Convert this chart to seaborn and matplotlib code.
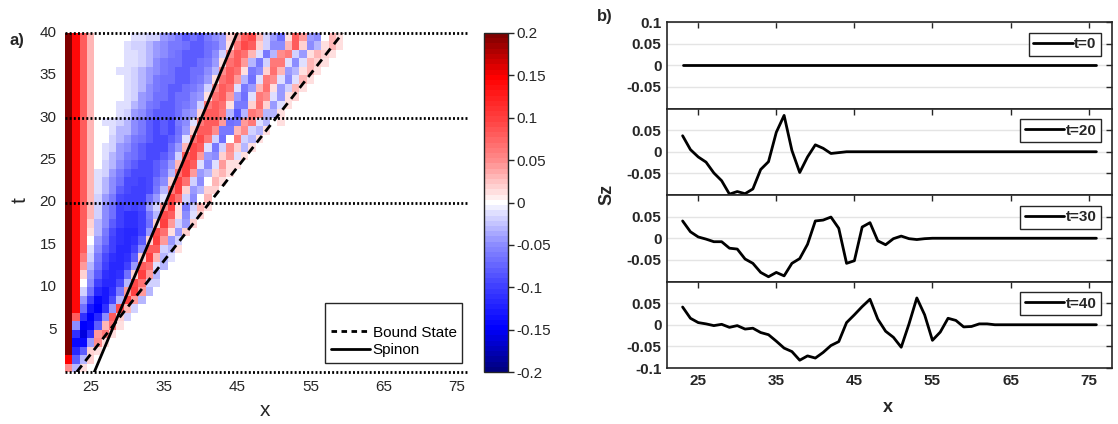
import numpy as np
import pandas as pd
import matplotlib
matplotlib.use("Agg")
import matplotlib.pyplot as plt
from matplotlib.colors import LinearSegmentedColormap
from matplotlib.transforms import Affine2D
from matplotlib.lines import Line2D
import seaborn as sns

# ------------------------------------------------------------------ data
# (a) heat map: sites 22..76, time rows t in [j, j+1], j = 0..39
# encoding: '.' = 0, 'A'..'T' = +0.01..+0.20, 'a'..'t' = -0.01..-0.20
heat_sites = list(range(22, 77))
heat_t_edges = list(range(0, 41))
heat_rows = [
    "EcA..",
    "OhcB.",
    "TlhBA",
    "TnndE A....",
    "TkpkD FA...",
    "Teonh CGA..",
    "THkol eHBb.",
    "TNgmo kdICb",
    "TNdjn micJD c....",
    "TNbgl mkfDJ Dc...",
    "TN.ej llicI Gbb..",
    "TNBdh klkgB JDc..",
    "TNDcg jlljd HGac.",
    "TNFbf iklkh BJCca",
    "TNHae hjllj eHHbc A....",
    "TNH.d gjklk hBJDd b....",
    "TNHAc fikll jdIGA dB...",
    "TNHBc ehjkk jgBJD bdB..",
    "TNHCb egjkk jfcIH AeaB.",
    "TNHCb egjij idbEJ AfbCA",
    "TNHCb dfijj jgdaJ Gbe.C",
    "TNHCa cehij jifcF JBdcB B....",
    "TNHCa cegii jigeB JGbe. CA...",
    "TNHCa bdfhi iihfc GJDdc BCA..",
    "TNHC. bcegh iihgd CJHae aDAA.",
    "TNHC. acdfg hiihf bHIDd eBDaA",
    "TNHC. abdeg hiiig dCIHa fbEBc A....",
    "TNHC. .bcdf ghiih faGIF bg.Fb cA...",
    "TNHC. .acce fhihi gdBHH EffCE bcA..",
    "TNHC. aabce fhihi feaFH HDgfD Fac.A",
    "TNHC. ..abd eghhh gedBH HFchc FEccA",
    "TNHC. ..aac dfghh gfebF HGAff BGBda A....",
    "TNHC. ...ab deggh ggedA GHDdg aFEad AB...",
    "TNHC. ...ab cefgh hgfeb EHGaf dCGAd bCA..",
    "TNHC. ...ab cdfgg hhgfd AGHDc gaFEa eaCA.",
    "TNHC. ..aab cdefg hhgge cEHGA feBGC dcACA",
    "TNHC. ...aa bcefg ghhgf dAGHD cfbFF aeaCB A....",
    "TNHC. ...aa bcdef ghhhg ebEHG CafcE FbdAC BA...",
    "TNHC. ...ab bcdef fghhg fdAFI HBbee CHBec ACA..",
    "TNHC. ....a abbde fhghf edBDH ICbdg AHDde .CA..",
]
marked_times = [0, 20, 30, 40]
# front lines (x at t = 0 and t = 40)
line_t = [0, 40]
spinon_x = [25.5, 45.0]
bound_x = [23.1, 59.4]

cbar_ticks = [-0.2, -0.15, -0.1, -0.05, 0, 0.05, 0.1, 0.15, 0.2]
cbar_labels = ["-0.2", "-0.15", "-0.1", "-0.05", "0", "0.05", "0.1", "0.15", "0.2"]
heat_xticks = [25, 35, 45, 55, 65, 75]
heat_yticks = [5, 10, 15, 20, 25, 30, 35, 40]

# (b) Sz profiles, sites 23..76
sites_b = list(range(23, 77))
sz_t0 = [0.0, 0.0, 0.0, 0.0, 0.0, 0.0, 0.0, 0.0, 0.0, 0.0, 0.0, 0.0, 0.0, 0.0,
         0.0, 0.0, 0.0, 0.0, 0.0, 0.0, 0.0, 0.0, 0.0, 0.0, 0.0, 0.0, 0.0, 0.0,
         0.0, 0.0, 0.0, 0.0, 0.0, 0.0, 0.0, 0.0, 0.0, 0.0, 0.0, 0.0, 0.0, 0.0,
         0.0, 0.0, 0.0, 0.0, 0.0, 0.0, 0.0, 0.0, 0.0, 0.0, 0.0, 0.0]
sz_t20 = [0.037, 0.005, -0.012, -0.024, -0.049, -0.067, -0.098, -0.092, -0.097,
          -0.086, -0.041, -0.023, 0.045, 0.084, 0.003, -0.048, -0.012, 0.016,
          0.008, -0.004, -0.002, 0.0,
          0.0, 0.0, 0.0, 0.0, 0.0, 0.0, 0.0, 0.0, 0.0, 0.0, 0.0, 0.0, 0.0, 0.0,
          0.0, 0.0, 0.0, 0.0, 0.0, 0.0, 0.0, 0.0, 0.0, 0.0, 0.0, 0.0, 0.0, 0.0,
          0.0, 0.0, 0.0, 0.0]
sz_t30 = [0.040, 0.015, 0.003, -0.002, -0.008, -0.008, -0.023, -0.025, -0.048,
          -0.058, -0.079, -0.089, -0.079, -0.087, -0.058, -0.047, -0.014, 0.040,
          0.042, 0.049, 0.023, -0.058, -0.052, 0.026, 0.036, -0.006, -0.015,
          -0.001, 0.005, -0.001, -0.003, -0.001,
          0.0, 0.0, 0.0, 0.0, 0.0, 0.0, 0.0, 0.0, 0.0, 0.0, 0.0, 0.0, 0.0, 0.0,
          0.0, 0.0, 0.0, 0.0, 0.0, 0.0, 0.0, 0.0]
sz_t40 = [0.041, 0.015, 0.005, 0.002, -0.002, 0.001, -0.006, -0.002, -0.010,
          -0.008, -0.018, -0.023, -0.038, -0.054, -0.062, -0.082, -0.072, -0.077,
          -0.064, -0.048, -0.039, 0.005, 0.023, 0.042, 0.059, 0.013, -0.015,
          -0.029, -0.052, 0.002, 0.062, 0.023, -0.036, -0.017, 0.015, 0.010,
          -0.005, -0.004, 0.002, 0.002,
          0.0, 0.0, 0.0, 0.0, 0.0, 0.0, 0.0, 0.0, 0.0, 0.0, 0.0, 0.0, 0.0, 0.0]
panel_times = [0, 20, 30, 40]
panel_series = [sz_t0, sz_t20, sz_t30, sz_t40]
panel_yticks = [[-0.05, 0, 0.05, 0.1], [-0.05, 0, 0.05], [-0.05, 0, 0.05],
                [-0.1, -0.05, 0, 0.05]]
panel_ylabels = [["-0.05", "0", "0.05", "0.1"], ["-0.05", "0", "0.05"],
                 ["-0.05", "0", "0.05"], ["-0.1", "-0.05", "0", "0.05"]]
panel_xticks = [25, 35, 45, 55, 65, 75]


def decode(row, width):
    row = row.replace(" ", "").ljust(width, ".")
    out = []
    for ch in row:
        if ch == ".":
            out.append(0.0)
        elif ch.isupper():
            out.append((ord(ch) - 64) / 100.0)
        else:
            out.append(-(ord(ch) - 96) / 100.0)
    return out


heat = pd.DataFrame([decode(r, len(heat_sites)) for r in heat_rows],
                    columns=heat_sites, index=heat_t_edges[:-1])

# ------------------------------------------------------------------ style
sns.set_theme(style="white")
plt.rcParams["font.family"] = ["Liberation Sans", "DejaVu Sans"]
plt.rcParams["axes.unicode_minus"] = False
DARK = "#262626"

W, H = 1118, 424
fig = plt.figure(figsize=(W / 100, H / 100), dpi=100)


def box(l, t, r, b):
    return [l / W, 1 - b / H, (r - l) / W, (b - t) / H]


cmap = LinearSegmentedColormap.from_list(
    "bwr_dark",
    [(0.0, (0.0, 0.0, 0.5)), (0.125, (0.0, 0.0, 1.0)), (0.25, (0.25, 0.25, 1.0)),
     (0.375, (0.55, 0.55, 1.0)), (0.47, (0.88, 0.88, 1.0)), (0.5, (1, 1, 1)),
     (0.53, (1.0, 0.88, 0.88)), (0.625, (1.0, 0.55, 0.55)), (0.75, (1.0, 0.25, 0.25)),
     (0.875, (1.0, 0.0, 0.0)), (1.0, (0.5, 0.0, 0.0))], N=65)

# ------------------------------------------------------------------ panel a
ax = fig.add_axes(box(65, 33, 468, 372))
cax = fig.add_axes(box(484, 33, 508, 372))
sns.heatmap(heat, ax=ax, cbar_ax=cax, cmap=cmap, vmin=-0.2, vmax=0.2,
            cbar_kws={"ticks": cbar_ticks})
mesh = ax.collections[0]
mesh.set_transform(Affine2D().translate(heat_sites[0] - 0.5, heat_t_edges[0]) + ax.transData)
ax.set_xlim(heat_sites[0] - 0.5, heat_sites[-1] + 0.5)
ax.set_ylim(heat_t_edges[0], heat_t_edges[-1])
ax.set_xticks(heat_xticks)
ax.set_xticklabels([str(v) for v in heat_xticks], rotation=0, fontsize=11, color=DARK)
ax.set_yticks(heat_yticks)
ax.set_yticklabels([str(v) for v in heat_yticks], rotation=0, fontsize=11, color=DARK)
ax.tick_params(length=0, pad=6)
ax.set_xlabel("")
ax.set_ylabel("")

for tm in marked_times:
    ax.axhline(tm, color="black", lw=2, ls=(0, (0.7, 0.8)), clip_on=False, zorder=5)

sns.lineplot(x=bound_x, y=line_t, ax=ax, color="black", lw=2, label="Bound State")
sns.lineplot(x=spinon_x, y=line_t, ax=ax, color="black", lw=2, label="Spinon")
ax.lines[-2].set_dashes([3, 2])
ax.set_xlim(heat_sites[0] - 0.5, heat_sites[-1] + 0.5)
ax.set_ylim(heat_t_edges[0], heat_t_edges[-1])

h_bound = Line2D([], [], color="black", lw=2, dashes=[2, 1.6])
h_spin = Line2D([], [], color="black", lw=2)
h_blank = Line2D([], [], color="none")
leg = ax.legend([h_blank, h_bound, h_spin], [" ", "Bound State", "Spinon"],
                loc="lower right", bbox_to_anchor=(0.985, 0.027), fontsize=11,
                frameon=True, fancybox=False, framealpha=1, edgecolor=DARK,
                handlelength=2.6, handletextpad=0.15, borderpad=0.35,
                labelspacing=0.25, borderaxespad=0)
leg.get_frame().set_linewidth(1.0)
for txt in leg.get_texts():
    txt.set_color("black")

cb = mesh.colorbar
cb.outline.set_linewidth(1.0)
cb.outline.set_edgecolor(DARK)
cax.set_yticks(cbar_ticks)
cax.set_yticklabels(cbar_labels, fontsize=11, color=DARK)
cax.tick_params(length=4, width=1, color=DARK, pad=2)

fig.text(10 / W, 1 - 40 / H, "a)", fontsize=12, fontweight="bold", va="center")
fig.text(20 / W, 1 - 200 / H, "t", fontsize=15, rotation=90, va="center", ha="center", color=DARK)
fig.text(265 / W, 1 - 410 / H, "x", fontsize=15, va="center", ha="center", color=DARK)

# ------------------------------------------------------------------ panel b
top, ph = 22, 86.5
for i, (tm, ser) in enumerate(zip(panel_times, panel_series)):
    axb = fig.add_axes(box(667, top + i * ph, 1112, top + (i + 1) * ph))
    sns.lineplot(x=sites_b, y=ser, ax=axb, color="black", lw=2, label=f"t={tm}")
    axb.set_xlim(21, 78)
    axb.set_ylim(-0.1, 0.1)
    axb.set_yticks(panel_yticks[i])
    axb.set_yticklabels(panel_ylabels[i], fontsize=11, fontweight="bold", color=DARK)
    axb.set_xticks(panel_xticks)
    if i == 3:
        axb.set_xticklabels([str(v) for v in panel_xticks], fontsize=11,
                            fontweight="bold", color=DARK)
    else:
        axb.set_xticklabels([])
    axb.set_xlabel("")
    axb.set_ylabel("")
    axb.tick_params(direction="in", top=True, right=True, length=4, width=1,
                    color=DARK, pad=4)
    axb.set_axisbelow(True)
    axb.yaxis.grid(True, color="#e4e4e4", lw=1)
    axb.xaxis.grid(False)
    for sp in axb.spines.values():
        sp.set_linewidth(1.2)
        sp.set_edgecolor(DARK)
    lg = axb.legend(loc="upper right", frameon=True, fancybox=False,
                    framealpha=1, edgecolor=DARK, handlelength=2.6,
                    handletextpad=0.1, borderpad=0.3, borderaxespad=0.7,
                    prop={"weight": "bold", "size": 11})
    lg.get_frame().set_linewidth(1.0)

fig.text(597 / W, 1 - 16 / H, "b)", fontsize=12, fontweight="bold", va="center")
fig.text(607 / W, 1 - 194 / H, "Sz", fontsize=13, fontweight="bold", rotation=90,
         va="center", ha="center", color=DARK)
fig.text(888 / W, 1 - 408 / H, "x", fontsize=13, fontweight="bold", va="center",
         ha="center", color=DARK)

fig.savefig("out.png", dpi=100)
